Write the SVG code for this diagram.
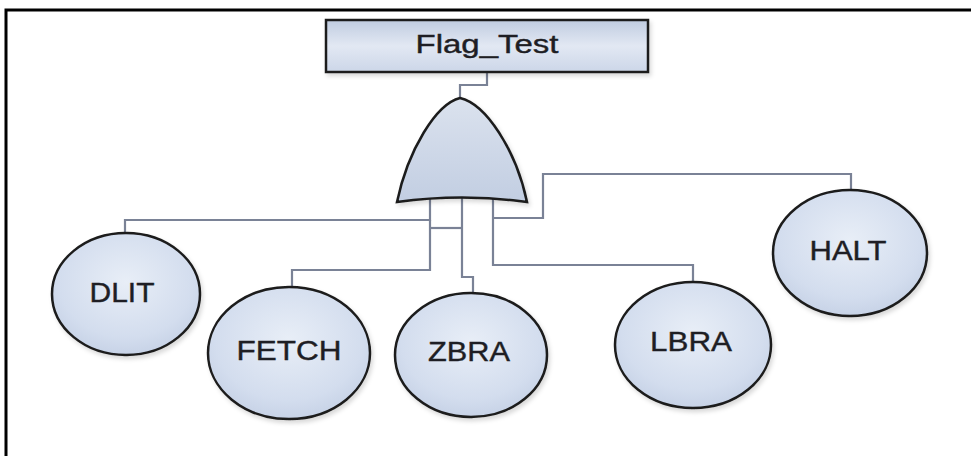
<svg xmlns="http://www.w3.org/2000/svg" width="971" height="456" viewBox="0 0 971 456">
<style>
.node{fill:url(#eg);stroke:#1c1c1c;stroke-width:2.5;filter:url(#sh)}
.lbl{font-family:"Liberation Sans",Arial,sans-serif;font-size:28px;fill:#1e1e24;stroke:#1e1e24;stroke-width:0.4;text-anchor:middle}
.wire{fill:none;stroke:#7a8296;stroke-width:2.2}
</style>
<defs>
<radialGradient id="eg" cx="0.5" cy="0.4" r="0.65">
<stop offset="0" stop-color="#e8eef7"/>
<stop offset="0.7" stop-color="#d3ddee"/>
<stop offset="1" stop-color="#c3cfe4"/>
</radialGradient>
<linearGradient id="bg" x1="0" y1="0" x2="0" y2="1">
<stop offset="0" stop-color="#c0cce0"/>
<stop offset="0.5" stop-color="#e2e8f3"/>
<stop offset="1" stop-color="#ccd6e8"/>
</linearGradient>
<linearGradient id="gg" x1="0" y1="0" x2="0" y2="1">
<stop offset="0" stop-color="#dbe2ee"/>
<stop offset="1" stop-color="#c2cee2"/>
</linearGradient>
<filter id="sh" x="-10%" y="-10%" width="125%" height="125%">
<feDropShadow dx="2" dy="3" stdDeviation="2" flood-color="#000" flood-opacity="0.15"/>
</filter>
</defs>
<rect width="971" height="456" fill="#fff"/>
<path d="M6,456 V10 H971" fill="none" stroke="#000" stroke-width="3"/>
<g id="connectors">
<path class="wire" d="M487,72 V85 H460 V99"/>
<path class="wire" d="M430,198 V220 H125 V234"/>
<path class="wire" d="M430,228 H462"/>
<path class="wire" d="M430,220 V270 H292 V288"/>
<path class="wire" d="M462,198 V277 H473 V294"/>
<path class="wire" d="M493,198 V265 H693 V283"/>
<path class="wire" d="M493,218 H543 V174 H851 V191"/>
</g>
<g id="Flag_Test">
<rect x="326" y="20" width="322" height="52" fill="url(#bg)" stroke="#1c1c1c" stroke-width="2.5" filter="url(#sh)"/>
<text class="lbl" x="487" y="53" style="font-size:25px" textLength="143" lengthAdjust="spacingAndGlyphs">Flag_Test</text>
</g>
<g id="gate">
<path d="M460,98 C436,104 408,150 397,202 Q462,193 527,202 C516,150 486,104 460,98 Z" fill="url(#gg)" stroke="#1c1c1c" stroke-width="2.5" filter="url(#sh)"/>
</g>
<g id="DLIT">
<ellipse class="node" cx="126" cy="294" rx="74" ry="61"/>
<text class="lbl" x="122" y="302" textLength="65" lengthAdjust="spacingAndGlyphs">DLIT</text>
</g>
<g id="FETCH">
<ellipse class="node" cx="289" cy="353" rx="81" ry="66"/>
<text class="lbl" x="289" y="360" textLength="105" lengthAdjust="spacingAndGlyphs">FETCH</text>
</g>
<g id="ZBRA">
<ellipse class="node" cx="471" cy="355" rx="76" ry="62"/>
<text class="lbl" x="469" y="361" textLength="82" lengthAdjust="spacingAndGlyphs">ZBRA</text>
</g>
<g id="LBRA">
<ellipse class="node" cx="693" cy="345" rx="78" ry="63"/>
<text class="lbl" x="691" y="351" textLength="82" lengthAdjust="spacingAndGlyphs">LBRA</text>
</g>
<g id="HALT">
<ellipse class="node" cx="850" cy="253" rx="77" ry="63"/>
<text class="lbl" x="848" y="260" textLength="77" lengthAdjust="spacingAndGlyphs">HALT</text>
</g>
</svg>
